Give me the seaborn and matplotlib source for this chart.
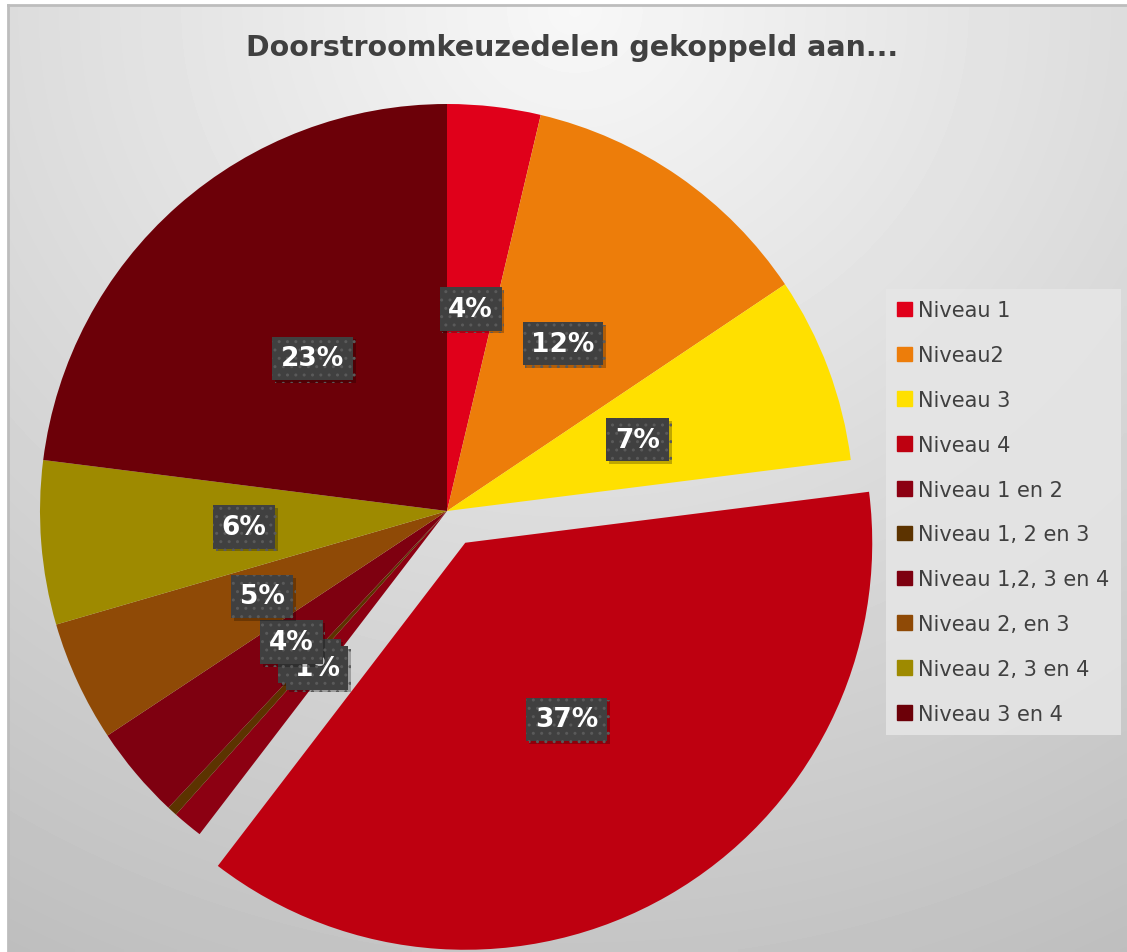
import numpy as np
import matplotlib
matplotlib.use("Agg")
import matplotlib.pyplot as plt
import matplotlib.patches as mpatches
import matplotlib.patheffects as pe
import seaborn as sns

# =============================================================================
# Data (shares, in percent)
# =============================================================================
categories = ["Niveau 1", "Niveau2", "Niveau 3", "Niveau 4", "Niveau 1 en 2",
              "Niveau 1, 2 en 3", "Niveau 1,2, 3 en 4", "Niveau 2, en 3",
              "Niveau 2, 3 en 4", "Niveau 3 en 4"]
shares = [3.7, 11.9, 7.4, 37.4, 1.2, 0.4, 3.7, 4.8, 6.5, 23.0]
slice_colors = ["#E0001A", "#ED7D0A", "#FFE000", "#BE0010", "#8C0012",
                "#5C3300", "#7E0010", "#8F4A06", "#9E8A00", "#6C0008"]
exploded = "Niveau 4"
title = "Doorstroomkeuzedelen gekoppeld aan..."

# =============================================================================
# Styling
# =============================================================================
sns.set_theme(style="white")
plt.rcParams['font.family'] = ['DejaVu Sans']
palette = sns.color_palette(slice_colors)

W, H = 1127, 953
fig = plt.figure(figsize=(W / 100, H / 100), dpi=100)
fig.patch.set_facecolor("white")

# background panel with a soft radial gradient
bg = fig.add_axes([8 / W, 0, 1 - 8 / W, 1 - 6 / H], zorder=0)
ny, nx = 200, 240
yy, xx = np.mgrid[0:ny, 0:nx]
px = xx / (nx - 1) * (W - 8) + 8
py = yy / (ny - 1) * (H - 6) + 6
dist = np.sqrt(((px - 575) / 1.1) ** 2 + (py - 10) ** 2) / 1000
grad = np.clip(0.97 - dist * 0.21, 0, 1)
bg.imshow(grad, cmap="gray", vmin=0, vmax=1, aspect="auto",
          extent=[0, 1, 0, 1], origin="upper", interpolation="bilinear")
bg.set_xticks([])
bg.set_yticks([])
for side in ["right", "bottom"]:
    bg.spines[side].set_visible(False)
for side in ["top", "left"]:
    bg.spines[side].set_color("#bdbdbd")
    bg.spines[side].set_linewidth(2)

# =============================================================================
# Pie
# =============================================================================
cx, cy, r = 447, 512, 407
ax = fig.add_axes([(cx - r) / W, (H - cy - r) / H, 2 * r / W, 2 * r / H], zorder=2)
ax.patch.set_alpha(0)

explode = [0.09 if c == exploded else 0 for c in categories]
wedges, texts, autotexts = ax.pie(
    shares,
    colors=palette,
    startangle=90,
    counterclock=False,
    explode=explode,
    autopct=lambda p: f"{p:.0f}%",
    pctdistance=0.5,
    wedgeprops=dict(linewidth=0, clip_on=False),
    textprops=dict(color="white", fontsize=19, fontweight="bold"),
)
ax.set_xlim(-1, 1)
ax.set_ylim(-1, 1)
ax.set_aspect("equal")

for i, t in enumerate(autotexts):
    t.set_bbox(dict(boxstyle="square,pad=0.33", fc="#404040", ec="#5a5a5a",
                    lw=0, hatch=".."))
    t.get_bbox_patch().set_path_effects(
        [pe.SimplePatchShadow(offset=(2, -2), shadow_rgbFace="black", alpha=0.25),
         pe.Normal()])
    t.set_zorder(5 + i)
# keep the "1%" label above the tiny "0%" one
autotexts[4].set_zorder(5 + 5.5)

# =============================================================================
# Title and legend
# =============================================================================
fig.text(572 / W, 1 - 48 / H, title, ha="center", va="center",
         fontsize=20.5, fontweight="bold", color="#404040")

handles = [mpatches.Patch(color=c, label=l) for c, l in zip(palette, categories)]
leg = fig.legend(handles=handles, loc="upper left",
                 bbox_to_anchor=(886 / W, 1 - 290 / H), borderaxespad=0,
                 fontsize=15, frameon=True, facecolor="#e6e6e6",
                 edgecolor="none", framealpha=0.85, fancybox=False,
                 labelspacing=1.19, handlelength=0.7, handleheight=0.7,
                 handletextpad=0.3, borderpad=0.55, labelcolor="#404040")
leg.set_zorder(10)

fig.savefig("out.png", dpi=100)
